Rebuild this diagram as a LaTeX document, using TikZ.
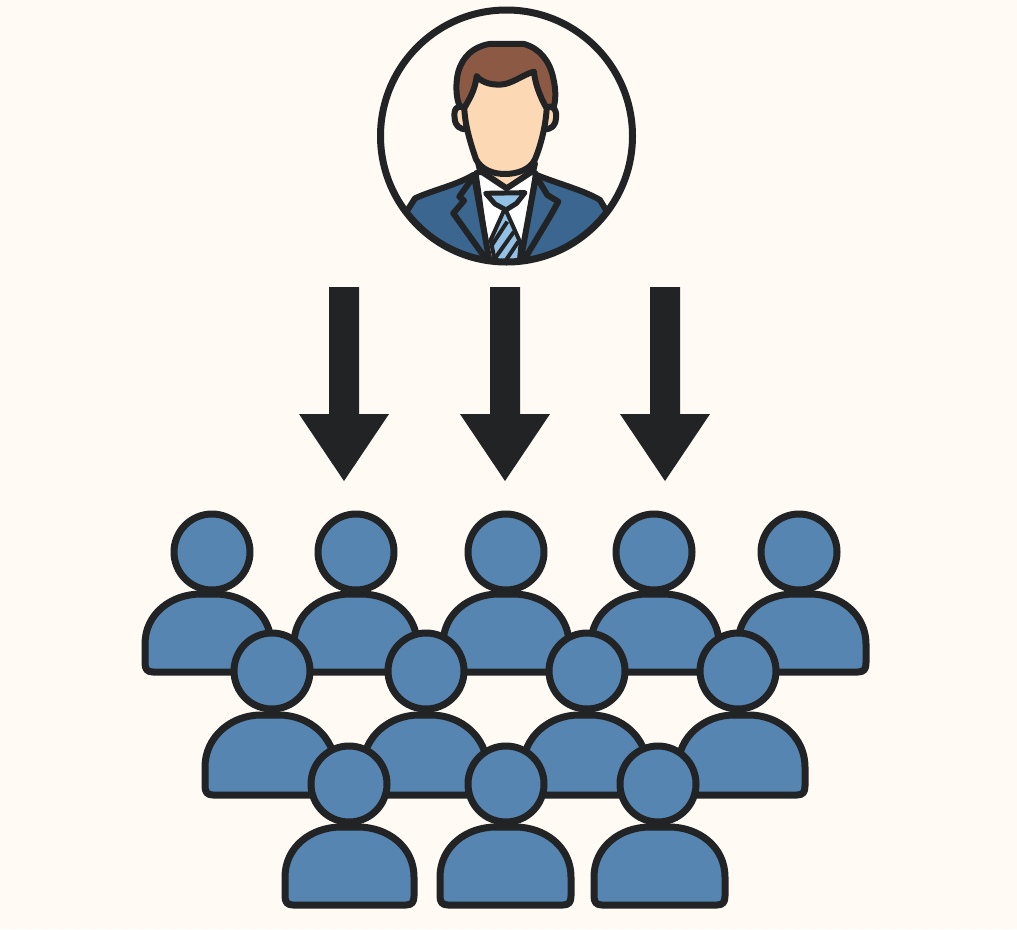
\documentclass[tikz,border=0pt]{standalone}
\usetikzlibrary{calc}
\definecolor{bgc}{HTML}{FFFBF4}
\definecolor{ink}{HTML}{222324}
\definecolor{crowd}{HTML}{5585B0}
\definecolor{hair}{HTML}{8C5A44}
\definecolor{skin}{HTML}{FDD8B5}
\definecolor{suit}{HTML}{3A6690}
\definecolor{tiec}{HTML}{93C1E6}
\tikzset{
  outl/.style={draw=ink,line width=7pt,line join=round,line cap=round},
  thick ink/.style={draw=ink,line width=6pt,line join=round,line cap=round},
  blockarrow/.style={fill=ink,draw=none},
}
\newcommand{\crowdperson}[6]{%
  \path[outl,fill=crowd] ({#3+8},#6) .. controls ({#3+2},#6) and (#3,{#6-3}) .. (#3,{#6-9})
    -- (#3,{#6-28}) .. controls (#3,{#6-58}) and ({#3+26},#5) .. ({#3+56},#5)
    -- ({#4-56},#5) .. controls ({#4-26},#5) and (#4,{#6-58}) .. (#4,{#6-28})
    -- (#4,{#6-9}) .. controls (#4,{#6-3}) and ({#4-2},#6) .. ({#4-8},#6) -- cycle;
  \path[outl,fill=crowd] (#1,#2) circle[radius=38];
}
\newcommand{\blockdown}[1]{%
  \path[blockarrow] ({#1-15},287) -- ({#1+15},287) -- ({#1+15},414) -- ({#1+45},414)
    -- (#1,481) -- ({#1-45},414) -- ({#1-15},414) -- cycle;
}
\begin{document}
\begin{tikzpicture}[x=1pt,y=-1pt]
\useasboundingbox (0,0) rectangle (1017,929);
\fill[bgc] (0,0) rectangle (1017,929);
% manager, drawn in 3x zoom coordinates
\begin{scope}
  \clip (506.5,136) circle[radius=126];
  \begin{scope}[shift={(370,0)},x=0.3333pt,y=-0.3333pt]
    % jacket
    \path[thick ink,fill=suit] (100,650) -- (135,595) .. controls (190,570) and (260,555) .. (310,525)
      -- (500,525) .. controls (560,550) and (640,570) .. (690,600) -- (720,650) -- (600,820) -- (250,820) -- cycle;
    % shirt
    \path[draw=ink,line width=5pt,line join=round,fill=white] (318,518) -- (358,800) -- (452,800) -- (497,518) -- cycle;
    % neck
    \path[thick ink,fill=skin] (325,490) -- (330,512) -- (410,565) -- (490,512) -- (495,490) -- cycle;
    % tie
    \path[draw=ink,line width=4pt,line join=round,fill=tiec] (405,625) -- (362,720) -- (378,800) -- (445,800) -- (452,730) -- cycle;
    \draw[ink,line width=4pt] (366,735) -- (412,665) (375,775) -- (432,695) (405,785) -- (445,725);
    \path[draw=ink,line width=5pt,line join=round,fill=tiec] (347,580) -- (465,578) -- (440,610) -- (408,630) -- (375,612) -- cycle;
    % lapels
    \path[thick ink,fill=suit] (312,528) -- (268,590) -- (282,602) -- (250,640) -- (350,780) -- (358,780) -- cycle;
    \path[thick ink,fill=suit] (498,528) -- (532,585) -- (565,605) -- (540,650) -- (465,775) -- (452,780) -- cycle;
  \end{scope}
\end{scope}
\begin{scope}[shift={(370,0)},x=0.3333pt,y=-0.3333pt]
  % hair
  \path[thick ink,fill=hair] (270,320) .. controls (255,290) and (258,240) .. (265,215)
    .. controls (278,170) and (310,140) .. (358,132) -- (462,132)
    .. controls (510,145) and (540,185) .. (550,235) .. controls (558,270) and (558,300) .. (550,325) -- cycle;
  % ears
  \path[thick ink,fill=skin] (285,325) .. controls (260,310) and (250,330) .. (254,355)
    .. controls (256,378) and (268,388) .. (290,388) -- cycle;
  \path[thick ink,fill=skin] (525,325) .. controls (548,310) and (562,330) .. (558,355)
    .. controls (556,378) and (545,388) .. (522,388) -- cycle;
  % face
  \path[thick ink,fill=skin] (283,325) .. controls (295,300) and (315,275) .. (320,228)
    .. controls (335,250) and (375,258) .. (405,252) .. controls (435,245) and (465,222) .. (492,215)
    .. controls (495,250) and (510,290) .. (530,325)
    .. controls (528,370) and (515,430) .. (495,478)
    .. controls (480,510) and (440,522) .. (405,522)
    .. controls (370,522) and (335,510) .. (318,478)
    .. controls (305,440) and (285,380) .. (283,325) -- cycle;
\end{scope}
% enclosing ring
\draw[ink,line width=7pt] (506.5,136) circle[radius=126];
% arrows
\blockdown{344}
\blockdown{505}
\blockdown{665}
% crowd: back row
\crowdperson{212}{552}{145}{271}{594}{672}
\crowdperson{356}{552}{294}{417}{594}{672}
\crowdperson{506}{552}{443}{569}{594}{672}
\crowdperson{654}{552}{591}{719}{594}{672}
\crowdperson{799}{552}{738}{866}{594}{672}
% middle row
\crowdperson{272}{671}{205}{335}{715}{795}
\crowdperson{426}{671}{363}{487}{715}{795}
\crowdperson{587}{671}{523}{647}{715}{795}
\crowdperson{738}{671}{678}{805}{715}{795}
% front row
\crowdperson{349}{784}{285}{414}{827}{905}
\crowdperson{506}{784}{440}{571}{827}{905}
\crowdperson{658}{784}{594}{725}{827}{905}
\end{tikzpicture}
\end{document}
